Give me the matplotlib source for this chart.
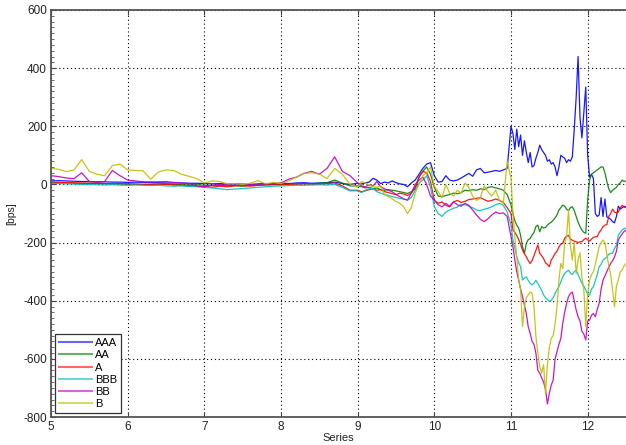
import numpy as np
import matplotlib
matplotlib.use("Agg")
import matplotlib.pyplot as plt
from matplotlib.ticker import MultipleLocator

# time axis (Series)
x_seg1 = np.round(5.0 + np.arange(40) * 0.1, 3)
x_seg2 = np.round(9.0 + np.arange(40) * 0.05, 3)
x_seg3 = np.round(11.0 + np.arange(61) * 0.025, 3)
x = np.concatenate([x_seg1, x_seg2, x_seg3])

labels = ["AAA", "AA", "A", "BBB", "BB", "B"]
colors = ["#0000ff", "#008000", "#ff0000", "#00bfbf", "#bf00bf", "#bfbf00"]

AAA = [12, 13, 12, 11, 10, 10, 9, 9, 8, 8, 7, 8, 7, 6, 6, 5, 5, 5, 4, 4,
       3, 2, 3, 1, 2, 1, 0, 2, 3, 2, 4, 3, 5, 6, 4, 5, 6, 8, 3, 0,
       4, 2, 5, 8, 21, 15, 3, 8, 5, 12, 6, 2, 0, -8, 5, 15, 35, 55, 70, 75,
       30, 8, 10, 30, 15, 12, 15, 22, 30, 38, 28, 50, 55, 40, 42, 45, 48, 45, 50, 55,
       200, 175, 120, 190, 130, 170, 100, 150, 110, 75,
       110, 60, 65, 90, 110, 135, 120, 110, 100, 80,
       85, 70, 75, 60, 30, 60, 100, 95, 90, 75,
       85, 80, 95, 190, 300, 440, 230, 160, 250, 335,
       100, 25, 35, 20, -100, -110, -105, -45, -110, -50,
       -112, -115, -120, -128, -132, -110, -75, -85, -80, -75,
       -78]

AA = [6, 5, 5, 4, 3, 4, 3, 2, 2, 1, 1, 1, 0, 0, 1, 2, 0, -1, -2, -1,
      -3, -4, -3, -5, -4, -6, -3, -2, -1, 0, 0, 1, 2, 3, 2, 4, 6, 15, 5, -5,
      -5, -8, -12, -10, -15, -12, -18, -20, -18, -20, -22, -25, -28, -31, -25, -15, 25, 45, 60, 35,
      -10, -40, -42, -38, -35, -30, -32, -28, -20, -22, -18, -20, -15, -18, -10, -8, -12, -15, -20, -35,
      -70, -100, -125, -140, -150, -175, -214, -237, -203, -190,
      -186, -174, -165, -145, -140, -163, -145, -150, -148, -140,
      -134, -130, -123, -115, -105, -88, -80, -71, -75, -85,
      -90, -80, -77, -90, -110, -130, -145, -157, -165, -168,
      -54, 15, 35, 40, 45, 50, 55, 60, 60, 40,
      10, -15, -28, -20, -15, -10, 0, 5, 15, 10,
      12]

A = [8, 7, 6, 6, 5, 4, 5, 3, 2, 3, 2, 1, 0, 0, 1, 0, -2, -3, -4, -6,
     -8, -10, -6, -8, -5, -4, -6, -3, -2, -1, -2, 0, 1, 2, 1, 0, 3, 5, -5, -20,
     -20, -25, -22, -18, -15, -20, -18, -25, -28, -32, -35, -30, -33, -38, -30, -10, 25, 45, 40, 10,
     -55, -65, -60, -72, -77, -60, -55, -62, -58, -52, -50, -48, -45, -52, -58, -55, -50, -55, -62, -80,
     -100, -157, -165, -175, -190, -205, -226, -238, -249, -262,
     -272, -262, -245, -226, -208, -237, -245, -255, -270, -275,
     -283, -260, -250, -237, -230, -215, -205, -203, -185, -178,
     -175, -188, -192, -195, -197, -200, -197, -197, -190, -185,
     -190, -195, -188, -182, -180, -180, -165, -157, -145, -140,
     -138, -110, -100, -85, -95, -98, -95, -80, -72, -78,
     -80]

BBB = [4, 3, 2, 1, 0, 0, -1, -2, -1, -2, -3, -2, -3, -4, -3, -5, -6, -5, -7, -8,
       -10, -12, -15, -18, -16, -14, -12, -10, -8, -6, -5, -4, -3, -3, -2, -1, -2, 0, -10, -22,
       -22, -28, -20, -15, -14, -25, -30, -35, -38, -42, -45, -48, -50, -54, -45, -20, 5, 15, 30, -10,
       -77, -100, -110, -95, -88, -82, -78, -68, -70, -75, -80, -88, -90, -85, -82, -77, -70, -65, -72, -95,
       -140, -191, -220, -249, -270, -283, -329, -322, -318, -330,
       -340, -345, -340, -330, -340, -352, -365, -380, -390, -395,
       -403, -398, -390, -375, -362, -352, -335, -318, -306, -300,
       -295, -305, -310, -300, -295, -310, -325, -340, -350, -363,
       -378, -381, -360, -352, -330, -310, -283, -275, -260, -255,
       -250, -240, -237, -237, -220, -210, -175, -165, -157, -152,
       -150]

BB = [30, 27, 22, 20, 40, 10, 8, 10, 48, 30, 15, 12, 9, 9, 9, 10, 7, 5, 3, -5,
      -8, -3, 0, -2, -3, -1, 0, -2, 3, 2, 5, 18, 25, 38, 45, 35, 55, 95, 45, 30,
      5, -5, -8, -2, -5, 10, -8, -15, -20, -25, -35, -42, -50, -54, -30, 0, 15, 25, 0, -40,
      -54, -70, -77, -65, -75, -60, -70, -75, -65, -72, -88, -105, -120, -128, -118, -105, -95, -100, -98, -110,
      -180, -214, -260, -300, -329, -360, -386, -415, -444, -490,
      -512, -540, -550, -581, -639, -650, -665, -680, -705, -755,
      -719, -690, -673, -600, -575, -550, -530, -478, -440, -410,
      -386, -375, -370, -400, -432, -455, -470, -505, -515, -535,
      -470, -467, -450, -444, -455, -430, -409, -360, -329, -315,
      -300, -285, -272, -262, -250, -230, -191, -180, -170, -162,
      -157]

B = [55, 52, 44, 50, 85, 45, 35, 30, 65, 70, 50, 48, 47, 18, 43, 50, 48, 35, 28, 20,
     5, 12, 10, 2, 3, 0, 4, 13, 2, 7, 3, 12, 25, 38, 40, 36, 20, 55, 35, 0,
     -10, 10, 5, -2, -8, -10, -5, -35, -42, -50, -59, -65, -77, -100, -80, -30, 0, 30, 40, 60,
     -5, -25, -45, 0, -30, -40, -20, -30, 5, -10, -40, -55, -45, -5, -25, -40, -20, -55, -65, 80,
     20, -100, -180, -250, -329, -360, -489, -421, -390, -380,
     -370, -375, -420, -524, -580, -627, -650, -620, -720, -620,
     -560, -530, -520, -480, -420, -329, -272, -290, -200, -180,
     -88, -210, -260, -200, -306, -260, -235, -320, -363, -489,
     -380, -330, -310, -300, -275, -245, -214, -200, -191, -200,
     -240, -280, -310, -363, -421, -350, -329, -300, -295, -280,
     -272]

series = [AAA, AA, A, BBB, BB, B]

plt.rcParams['font.family'] = ['Liberation Sans', 'DejaVu Sans']
plt.rcParams['axes.unicode_minus'] = False

fig = plt.figure(figsize=(6.26, 4.45), dpi=100)
ax = fig.add_axes([51 / 626, 28 / 445, 1 - 51 / 626, 407 / 445])

for vals, lab, col in zip(series, labels, colors):
    ax.plot(x, vals, color=col, lw=0.9, label=lab, alpha=0.9)

ax.set_xlim(5, 12.5)
ax.set_ylim(-800, 600)
ax.set_xticks(np.arange(5, 13, 1))
ax.set_yticks(np.arange(-800, 601, 200))
ax.yaxis.set_minor_locator(MultipleLocator(20))
ax.grid(True, which='major', color='black', linestyle=(0, (1, 2.5)), linewidth=0.8)

for side in ['left', 'top', 'bottom']:
    ax.spines[side].set_color('#555555')
    ax.spines[side].set_linewidth(1.3)
ax.spines['right'].set_visible(False)

ax.tick_params(axis='both', which='major', direction='in', length=3.5, width=0.8,
               color='#444444', labelsize=8.5, labelcolor='#222222', top=True, right=False, pad=3)
ax.tick_params(axis='y', which='minor', direction='in', length=2, width=0.6, color='#555555')

ax.set_xlabel("Series", fontsize=8, color='#222222', labelpad=0)
ax.set_ylabel("[bps]", fontsize=7.5, color='#222222', labelpad=5)

leg = ax.legend(loc='lower left', fontsize=8, handlelength=3.0, handletextpad=0.3,
                labelspacing=0.2, borderpad=0.35, borderaxespad=0.35, fancybox=False,
                framealpha=1)
leg.get_frame().set_edgecolor('#333333')
leg.get_frame().set_linewidth(0.9)
for line in leg.get_lines():
    line.set_linewidth(1.5)
    line.set_alpha(0.6)

fig.savefig("out.png", dpi=100)
